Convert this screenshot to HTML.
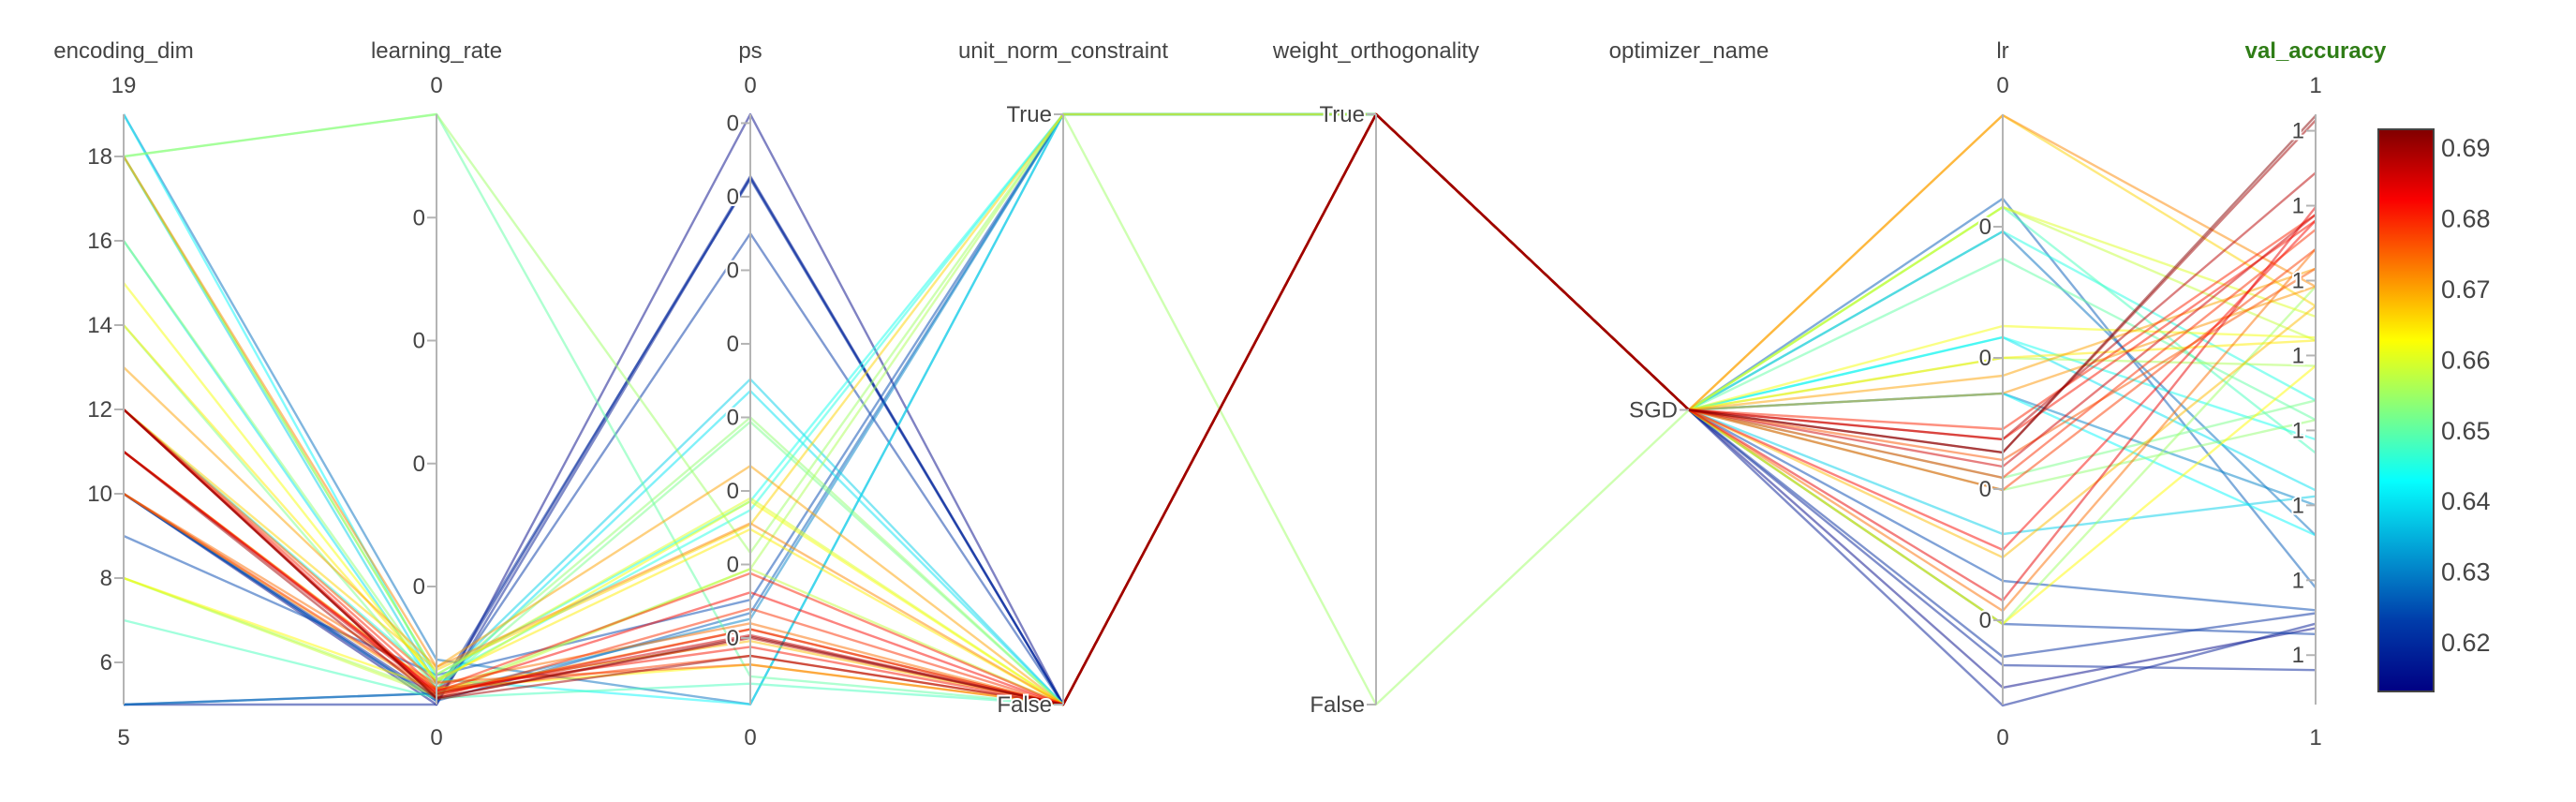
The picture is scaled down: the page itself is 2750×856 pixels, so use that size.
<!DOCTYPE html>
<html>
<head>
<meta charset="utf-8">
<style>
  html, body { margin: 0; padding: 0; background: #fff; }
  svg { display: block; font-family: "Liberation Sans", "DejaVu Sans", sans-serif; }
  .ttl { font-size: 24px; fill: #444; text-anchor: middle; }
  .tk { font-size: 24px; fill: #444; text-anchor: end; }
  .rng { font-size: 24px; fill: #444; text-anchor: middle; }
  .cbt { font-size: 27px; fill: #444; }
</style>
</head>
<body>
<svg id="chart" width="2750" height="856" viewBox="0 0 2750 856" xmlns="http://www.w3.org/2000/svg">
  <defs>
    <linearGradient id="jet" x1="0" y1="1" x2="0" y2="0">
      <stop offset="0" stop-color="rgb(0,0,131)"/>
      <stop offset="0.125" stop-color="rgb(0,60,170)"/>
      <stop offset="0.375" stop-color="rgb(5,255,255)"/>
      <stop offset="0.625" stop-color="rgb(255,255,0)"/>
      <stop offset="0.875" stop-color="rgb(250,0,0)"/>
      <stop offset="1" stop-color="rgb(128,0,0)"/>
    </linearGradient>
  </defs>
  <g id="lines"></g>
  <g id="axes"></g>
  <g id="colorbar"></g>
</svg>
<script>
// ---- data (one entry per trial) ----
const colorValues   = [0.614,0.617,0.618,0.620,0.622,0.624,0.626,0.628,0.630,
                       0.638,0.640,0.642,0.644,0.645,
                       0.650,0.655,0.652,0.648,0.656,0.654,0.658,
                       0.662,0.660,0.664,0.663,0.666,
                       0.670,0.672,0.674,0.668,0.676,0.671,
                       0.680,0.682,0.684,0.686,0.688,0.690,0.692,0.678,0.681,0.679];
const encodingDim   = [10,5,10,5,10,9,10,19,5,
                       18,16,19,18,12,
                       18,18,14,7,8,16,8,
                       15,18,14,8,12,
                       13,18,10,11,12,10,
                       12,11,12,11,12,11,12,10,11,12];
const learningRate  = [0.00004,0.00004,0.000093,0.000131,0.00007,0.00028,0.00007,0.000406,0.000131,
                       0.000208,0.00017,0.000246,0.000284,0.000246,
                       0.00484,0.00484,0.00017,0.000093,0.000131,0.000223,0.00011,
                       0.000223,0.000284,0.000246,0.00017,0.000322,
                       0.000345,0.000345,0.000208,0.00017,0.000223,0.000131,
                       0.00017,0.00015,0.00012,0.000131,0.000093,0.000085,0.000093,0.00015,0.00016,0.0001];
const psValues      = [0.406,0.363,0.364,0.362,0.325,0.076,0.067,0.005,0.063,
                       0.226,0.218,0.005,0.143,0.137,
                       0.024,0.108,0.197,0.019,0.097,0.200,0.097,
                       0.143,0.145,0.124,0.032,0.127,
                       0.167,0.128,0.060,0.048,0.032,0.056,
                       0.094,0.081,0.056,0.052,0.050,0.038,0.051,0.038,0.044,0.070];
const unitNorm      = ["False","False","False","False","False","True","True","True","True",
                       "False","False","True","True","True",
                       "False","True","False","False","True","False","False",
                       "False","False","False","False","True",
                       "False","False","False","False","False","False",
                       "False","False","False","False","False","False","False","False","False","False"];
const weightOrth    = ["True","True","True","True","True","True","True","True","True",
                       "True","True","True","True","True",
                       "True","False","True","True","True","True","True",
                       "True","True","True","True","True",
                       "True","True","True","True","True","True",
                       "True","True","True","True","True","True","True","True","True","True"];
const optimizerName = colorValues.map(() => "SGD");
const lrValues      = [0.000486,0.00035,0.000657,0.000721,0.000971,0.0013,0.004214,0.003964,0.002729,
                       0.001657,0.003157,0.002729,0.003157,0.003964,
                       0.003757,0.000971,0.002086,0.00415,0.003,0.001993,0.00415,
                       0.003243,0.00415,0.003,0.000971,0.00485,
                       0.002864,0.00485,0.001071,0.001479,0.002221,0.002729,
                       0.002457,0.001536,0.00115,0.002171,0.002379,0.002279,0.002279,0.001993,0.002379,0.002086];
const valAccuracy   = [1.268,1.271,1.240,1.278,1.264,1.280,1.295,1.330,1.350,
                       1.356,1.360,1.330,1.394,1.420,
                       1.407,1.496,1.420,1.385,1.443,1.407,1.460,
                       1.462,1.476,1.460,1.443,1.483,
                       1.508,1.496,1.521,1.483,1.508,1.496,
                       1.544,1.540,1.549,1.544,1.572,1.607,1.610,1.521,1.540,1.534];

const encTicks = [6,8,10,12,14,16,18];
const lrateTicks = [0.001,0.002,0.003,0.004];
const psTicks = [0.05,0.10,0.15,0.20,0.25,0.30,0.35,0.40];
const lrTicks = [0.001,0.002,0.003,0.004];
const vaTicks = [1.25,1.30,1.35,1.40,1.45,1.50,1.55,1.60];
const cbTicks = [0.62,0.63,0.64,0.65,0.66,0.67,0.68,0.69];

// ---- layout ----
const NS = "http://www.w3.org/2000/svg";
const TOP = 122, BOT = 752;
function lin(min, max) { return v => BOT - (v - min) / (max - min) * (BOT - TOP); }
function cat(cats) { return v => cats.length === 1 ? 437.5 : BOT - cats.indexOf(v) / (cats.length - 1) * (BOT - TOP); }

const dims = [
  { key:"encoding_dim", x:132, vals:encodingDim, y:lin(5,19), ticks:encTicks, fmt:v=>String(v), top:"19", bot:"5", name:"encoding-dim-axis" },
  { key:"learning_rate", x:466, vals:learningRate, y:lin(0.00004,0.00484), ticks:lrateTicks, fmt:()=> "0", top:"0", bot:"0", name:"learning-rate-axis" },
  { key:"ps", x:801, vals:psValues, y:lin(0.0048,0.406), ticks:psTicks, fmt:()=> "0", top:"0", bot:"0", name:"ps-axis" },
  { key:"unit_norm_constraint", x:1135, vals:unitNorm, y:cat(["False","True"]), cats:["False","True"], name:"unit-norm-constraint-axis" },
  { key:"weight_orthogonality", x:1469, vals:weightOrth, y:cat(["False","True"]), cats:["False","True"], name:"weight-orthogonality-axis" },
  { key:"optimizer_name", x:1803, vals:optimizerName, y:cat(["SGD"]), cats:["SGD"], noLine:true, name:"optimizer-name-axis" },
  { key:"lr", x:2138, vals:lrValues, y:lin(0.000357,0.004857), ticks:lrTicks, fmt:()=> "0", top:"0", bot:"0", name:"lr-axis" },
  { key:"val_accuracy", x:2472, vals:valAccuracy, y:lin(1.217,1.611), ticks:vaTicks, fmt:()=> "1", top:"1", bot:"1", name:"val-accuracy-axis", bold:true }
];

// Jet colorscale
const CMIN = 0.613, CMAX = 0.6925;
const stops = [[0,[0,0,131]],[0.125,[0,60,170]],[0.375,[5,255,255]],[0.625,[255,255,0]],[0.875,[250,0,0]],[1,[128,0,0]]];
function jet(v) {
  let t = Math.max(0, Math.min(1, (v - CMIN) / (CMAX - CMIN)));
  for (let i = 1; i < stops.length; i++) {
    if (t <= stops[i][0]) {
      const a = stops[i-1], b = stops[i], f = (t - a[0]) / (b[0] - a[0]);
      const c = a[1].map((x, k) => Math.round(x + (b[1][k] - x) * f));
      return `rgb(${c[0]},${c[1]},${c[2]})`;
    }
  }
  return "rgb(128,0,0)";
}

function mk(tag, attrs, parent) {
  const e = document.createElementNS(NS, tag);
  for (const k in attrs) e.setAttribute(k, attrs[k]);
  parent.appendChild(e);
  return e;
}

// ---- lines ----
const gl = document.getElementById("lines");
const order = colorValues.map((c, i) => i).sort((a, b) => colorValues[a] - colorValues[b]);
order.forEach(i => {
  const pts = dims.map(d => d.x + "," + d.y(d.vals[i]).toFixed(1)).join(" ");
  const pl = mk("polyline", { points: pts, fill: "none", stroke: jet(colorValues[i]), "stroke-width": 2.4, "stroke-opacity": 0.5, "stroke-linejoin": "round" }, gl);
  
  
});

// ---- axes ----
const ga = document.getElementById("axes");
dims.forEach(d => {
  const g = mk("g", {}, ga);
  
  
  if (!d.noLine) mk("line", { x1:d.x, x2:d.x, y1:TOP, y2:BOT, stroke:"#b4b4b4", "stroke-width":2 }, g);
  const t = mk("text", { x:d.x, y:62, class:"ttl" }, g);
  t.textContent = d.key;
  
  
  if (d.bold) { t.setAttribute("font-weight", "bold"); t.style.fill = "#2f7d17"; }
  const ticks = d.ticks ? d.ticks.map(v => [d.y(v), d.fmt(v)]) : d.cats.map(c => [d.y(c), c]);
  ticks.forEach(([y, lab]) => {
    mk("line", { x1:d.x - 10, x2:d.x, y1:y, y2:y, stroke:"#b4b4b4", "stroke-width":2 }, g);
    const tl = mk("text", { x:d.x - 12, y:y + 8, class:"tk", stroke:"#fff", "stroke-width":4, "paint-order":"stroke" }, g);
    tl.textContent = lab;
    
    
  });
  if (d.top) {
    const a = mk("text", { x:d.x, y:99, class:"rng" }, g); a.textContent = d.top;
    
    
    const b = mk("text", { x:d.x, y:795, class:"rng" }, g); b.textContent = d.bot;
    
    
  }
});

// ---- colorbar ----
const gc = document.getElementById("colorbar");
const CB_T = 138, CB_B = 738;
const cbRect = mk("rect", { x:2539, y:CB_T, width:59, height:CB_B - CB_T, fill:"url(#jet)", stroke:"#444", "stroke-width":2 }, gc);


cbTicks.forEach(v => {
  const y = CB_B - (v - CMIN) / (CMAX - CMIN) * (CB_B - CB_T);
  const t = mk("text", { x:2606, y:y + 10, class:"cbt" }, gc);
  t.textContent = v.toFixed(2);
  
  
});
</script>
</body>
</html>
